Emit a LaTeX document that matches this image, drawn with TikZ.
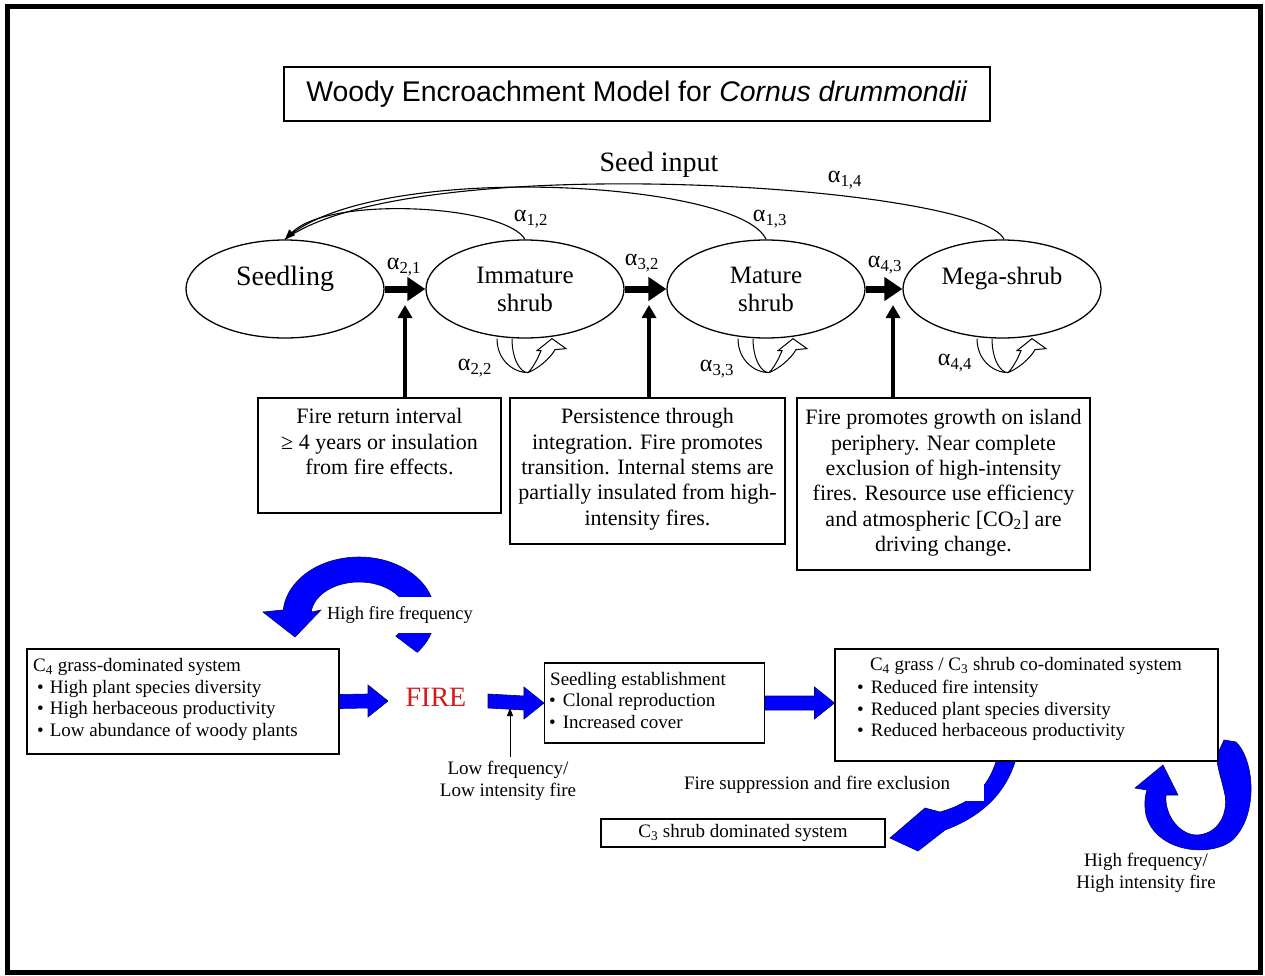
\documentclass[tikz,border=0pt]{standalone}
\usepackage{fontspec}
\setmainfont{Liberation Serif}
\newfontfamily\titlefont{Liberation Sans}
\usetikzlibrary{shapes.geometric,arrows.meta,calc}
\definecolor{firered}{RGB}{215,25,25}
\definecolor{arrowblue}{RGB}{0,0,255}
\newcommand\alsub[1]{α\textsubscript{#1}}
\newcommand\bul{\hspace*{4pt}•\hspace*{6pt}}
\newcommand\lift[1]{\raisebox{10pt}[\height][\depth]{#1}}
\tikzset{
  stage/.style={draw, ellipse, line width=1.3pt, minimum width=198pt, minimum height=98pt,
    inner sep=0pt, align=center, font=\fontsize{25}{28}\selectfont},
  note/.style={draw, line width=1.1pt, inner sep=0pt},
  notetext/.style={align=center, inner sep=0pt, font=\fontsize{22}{25.3}\selectfont},
  sysbox/.style={draw, line width=1.1pt, fill=white, inner sep=0pt},
  systext/.style={align=left, inner sep=0pt, font=\fontsize{19}{21.7}\selectfont},
  plaintext/.style={inner sep=0pt, align=center, font=\fontsize{19}{21.7}\selectfont},
  bigarrow/.style={line width=7pt, -{Triangle[length=18pt,width=23pt]}},
  uparrow/.style={line width=4pt, -{Triangle[length=13pt,width=14pt]}},
  seedline/.style={line width=1.1pt},
  alab/.style={inner sep=0pt, font=\fontsize{24}{24}\selectfont},
  bluearrow/.style={fill=arrowblue, draw=arrowblue!45!black, line width=0.6pt},
  selfloop/.pic={
    \draw[line width=1pt] (-31,0) .. controls (-31,22) and (-14,34) .. (0,34)
      .. controls (10,30) and (22,20) .. (27,11) -- (38,10) -- (24,0) -- (9,12) -- (13,12)
      .. controls (9,22) and (4,30) .. (0,34)
      .. controls (-8,34) and (-16,20) .. (-16,0);
  }
}
\newcommand\blockarrow[2]{%
  \path[bluearrow] ($(#1)+(0,-7)$) -- ($(#2)+(-20,-7)$) -- ($(#2)+(-20,-16)$) -- (#2)
    -- ($(#2)+(-20,16)$) -- ($(#2)+(-20,7)$) -- ($(#1)+(0,7)$) -- cycle;}
\begin{document}
\begin{tikzpicture}[x=1pt,y=-1pt]
\useasboundingbox (0,0) rectangle (1265,976);
\draw[line width=5pt] (7,7) rectangle (1260,972);

% title
\node[draw, line width=2.5pt, minimum width=706pt, minimum height=54pt, inner sep=0pt,
  font=\titlefont\fontsize{28.4}{28.4}\selectfont] (title) at (637,94)
  {Woody Encroachment Model for \textit{Cornus drummondii}};

% stages
\node[stage, font=\fontsize{28}{30}\selectfont] (seed) at (285,289) {\lift{Seedling}};
\node[stage] (imm) at (525,289) {Immature\\shrub};
\node[stage] (mat) at (766,289) {Mature\\shrub};
\node[stage] (mega) at (1002,289) {\lift{Mega-shrub}};

\draw[bigarrow] (seed.east) -- (imm.west);
\draw[bigarrow] (imm.east) -- (mat.west);
\draw[bigarrow] (mat.east) -- (mega.west);

\node[alab] (a21) at (404,267) {\alsub{2,1}};
\node[alab] (a32) at (642,263) {\alsub{3,2}};
\node[alab] (a43) at (885,265) {\alsub{4,3}};

% seed input
\node[inner sep=0pt, font=\fontsize{28}{28}\selectfont] (seedin) at (659,165) {Seed input};
\draw[seedline, -{Triangle[length=10pt,width=8pt]}] (imm.north) .. controls (505,205) and (330,195) .. (seed.north);
\draw[seedline] (mat.north) .. controls (740,180) and (370,160) .. (seed.north);
\draw[seedline] ([xshift=2pt]mega.north) .. controls (980,185) and (410,148) .. (seed.north);
\node[alab] (a12) at (531,219) {\alsub{1,2}};
\node[alab] (a13) at (770,219) {\alsub{1,3}};
\node[alab] (a14) at (845,180) {\alsub{1,4}};

% self loops
\pic at ([xshift=3pt]imm.south) {selfloop};
\pic at ([xshift=3pt]mat.south) {selfloop};
\pic at ([xshift=6pt]mega.south) {selfloop};
\node[alab] (a22) at (475,368) {\alsub{2,2}};
\node[alab] (a33) at (717,369) {\alsub{3,3}};
\node[alab] (a44) at (955,363) {\alsub{4,4}};

% note boxes
\node[note, minimum width=243pt, minimum height=115pt] (b1) at (379.5,455.5) {};
\node[note, minimum width=275pt, minimum height=146pt] (b2) at (647.5,471) {};
\node[note, minimum width=293pt, minimum height=172pt] (b3) at (943.5,484) {};
\node[notetext, anchor=north] (t1) at ([yshift=-11pt]b1.north)
  {Fire return interval\\≥ 4 years or insulation\\from fire effects.};
\node[notetext, anchor=north] (t2) at ([yshift=-11pt]b2.north)
  {Persistence through\\integration. Fire promotes\\transition. Internal stems are\\partially insulated from high-\\intensity fires.};
\node[notetext, anchor=north] (t3) at ([yshift=-12pt]b3.north)
  {Fire promotes growth on island\\periphery. Near complete\\exclusion of high-intensity\\fires. Resource use efficiency\\and atmospheric [CO\textsubscript{2}] are\\driving change.};

\coordinate (u1) at (405,305);
\coordinate (u2) at (649,305);
\coordinate (u3) at (893,305);
\draw[uparrow] (u1 |- b1.north) -- (u1);
\draw[uparrow] (u2 |- b2.north) -- (u2);
\draw[uparrow] (u3 |- b3.north) -- (u3);

% ---------- lower part ----------
% high fire frequency loop
\path[bluearrow] (417.2,652.3) arc[start angle=40, end angle=-175, x radius=76, y radius=58]
  -- (263,612) -- (295,637) -- (321,610) -- (311.2,612.1)
  arc[start angle=-175, end angle=40, x radius=48, y radius=33] -- cycle;
\node[fill=white, inner xsep=3pt, inner ysep=0pt, minimum height=36pt,
  font=\fontsize{18.5}{20}\selectfont] (hff) at (400,615) {High fire frequency};

% high frequency / high intensity loop (behind box C)
\path[bluearrow] (1224,740) -- (1236,742) .. controls (1256,762) and (1258,820) .. (1230,842)
  .. controls (1205,858) and (1155,850) .. (1146,815)
  .. controls (1144,805) and (1145,796) .. (1147,790) -- (1135,788) -- (1163,765) -- (1178,795)
  -- (1166,795) .. controls (1164,815) and (1180,836) .. (1198,835)
  .. controls (1220,833) and (1228,812) .. (1225,795)
  .. controls (1222,780) and (1216,765) .. (1217,755) -- cycle;

% suppression arrow (behind box C and label)
\path[bluearrow] (998,755) .. controls (990,785) and (975,802) .. (940,812) -- (925,808)
  -- (890,838) -- (918,851) -- (945,830) .. controls (985,815) and (1008,790) .. (1017,755) -- cycle;
\fill[white] (680,771) rectangle (984,801);
\node[plaintext] (supp) at (817,785) {Fire suppression and fire exclusion};

% system boxes
\node[sysbox, minimum width=312pt, minimum height=105pt] (boxA) at (183,701.5) {};
\node[systext, anchor=north west] (tA) at (33,658)
  {C\textsubscript{4} grass-dominated system\\\bul High plant species diversity\\\bul High herbaceous productivity\\\bul Low abundance of woody plants};

\node[inner sep=0pt, text=firered, font=\fontsize{28}{28}\selectfont] (fire) at (436,697) {FIRE};

\node[sysbox, minimum width=220pt, minimum height=80pt] (boxB) at (654.5,703) {};
\node[systext, anchor=north west, font=\fontsize{19}{21.5}\selectfont] (tB) at (550,672)
  {Seedling establishment\\\hspace*{-1pt}•\hspace*{7pt}Clonal reproduction\\\hspace*{-1pt}•\hspace*{7pt}Increased cover};

\node[sysbox, minimum width=383pt, minimum height=112pt] (boxC) at (1026.5,705) {};
\node[plaintext] (hC) at (1026,666) {C\textsubscript{4} grass / C\textsubscript{3} shrub co-dominated system};
\node[systext, anchor=north west] (tC) at (857,680)
  {•\hspace*{7pt}Reduced fire intensity\\•\hspace*{7pt}Reduced plant species diversity\\•\hspace*{7pt}Reduced herbaceous productivity};

\node[sysbox, minimum width=284pt, minimum height=28pt, font=\fontsize{19}{21.7}\selectfont] (boxD) at (743,833)
  {C\textsubscript{3} shrub dominated system};

% block arrows
\coordinate (fa) at (388,701);
\coordinate (fb) at (488,701);
\blockarrow{boxA.east}{fa}
\blockarrow{fb}{boxB.west}
\blockarrow{boxB.east}{boxB.east -| boxC.west}

% low frequency
\node[plaintext] (low) at (508,781) {Low frequency/\\Low intensity fire};
\coordinate (lfb) at (510,757);
\coordinate (lft) at (510,708);
\draw[line width=1pt, -{Triangle[length=8pt,width=6pt]}] (lfb) -- (lft);

\node[plaintext] (hfi) at (1146,873) {High frequency/\\High intensity fire};
\end{tikzpicture}
\end{document}
